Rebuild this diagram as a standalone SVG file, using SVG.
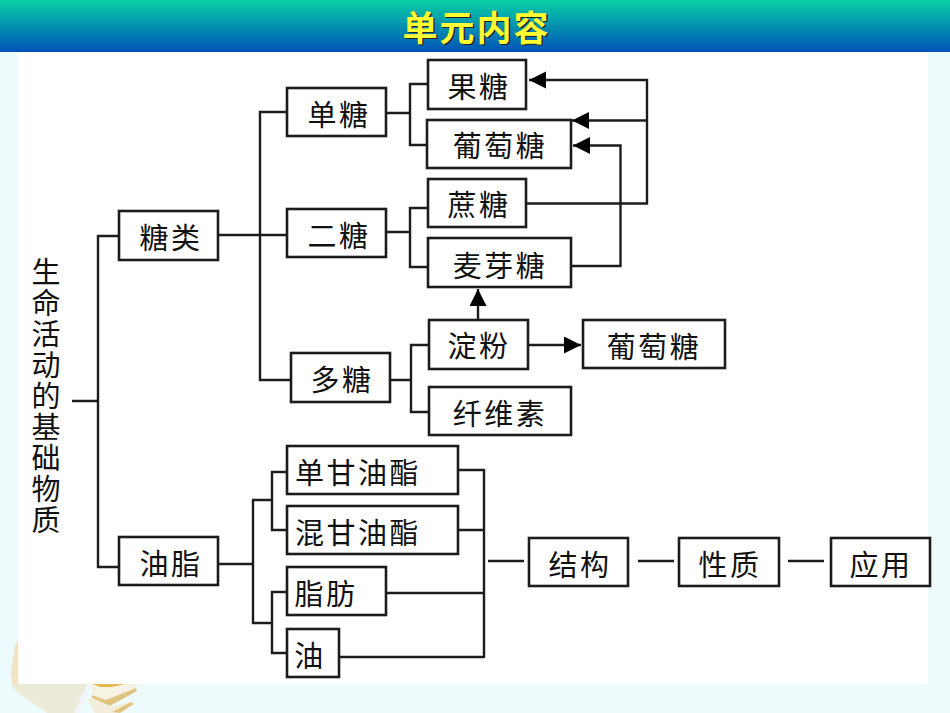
<svg xmlns="http://www.w3.org/2000/svg" width="950" height="713" viewBox="0 0 950 713">
<style>
.b{fill:#fff;stroke:#1c1c1c;stroke-width:2.6}
.t{font-family:"Noto Sans CJK SC","Noto Sans CJK JP",sans-serif;font-size:29px;letter-spacing:2.500px;fill:#111;text-anchor:middle}
.v{font-family:"Noto Sans CJK SC","Noto Sans CJK JP",sans-serif;font-size:29px;letter-spacing:2px;fill:#111;writing-mode:vertical-rl;text-orientation:upright}
.c{fill:none;stroke:#1c1c1c;stroke-width:2.4}
.h{font-family:"Noto Sans CJK SC","Noto Sans CJK JP",sans-serif;font-size:35px;letter-spacing:2px;font-weight:700;text-anchor:middle}
</style>
<defs>
<linearGradient id="g" x1="0" y1="0" x2="0" y2="1"><stop offset="0" stop-color="#0ad0a6"/><stop offset="1" stop-color="#0052b8"/></linearGradient>
<marker id="a" markerUnits="userSpaceOnUse" markerWidth="18" markerHeight="18" refX="17" refY="8.500" orient="auto"><path d="M0 0L17 8.500L0 17Z" fill="#000"/></marker>
<filter id="bl" x="-10%" y="-10%" width="120%" height="120%"><feGaussianBlur stdDeviation="0.7"/></filter>
</defs>
<rect width="950" height="713" fill="#eefbfd"/>
<g id="books" filter="url(#bl)">
<path d="M15 645L18 640V684H12L11 672Z" fill="#efe4c6"/>
<path d="M13 684L12 688L47 713H78L92 684Z" fill="#ecebd8"/>
<path d="M87 684H92L78 713H74Z" fill="#f3f3fb"/>
<path d="M92 684H137L136 689L110 705L92 697Z" fill="#f6f3e4"/>
<path d="M106 700L136 688L137 691L110 706L92 698V695Z" fill="#e2c482"/>
<path d="M93 684H125L112 687H100Z" fill="#e6b84e"/>
<path d="M87 700L92 698L110 707L130 702L132 704L115 713H95Z" fill="#f2eedb"/>
<path d="M112 712L131 702L134 704L120 713Z" fill="#e2c482"/>
</g>
<rect x="18" y="52" width="910" height="632" fill="#fff"/>
<rect id="banner" width="950" height="52" fill="url(#g)"/>
<text class="h" x="478" y="42" fill="#222">单元内容</text>
<text class="h" x="476.500" y="41" fill="#ffff33">单元内容</text>
<g id="connectors">
<path class="c" d="M72 401H98M119 236H98V567H119"/>
<path class="c" d="M218 235H287M287 112H260V380H291"/>
<path class="c" d="M386 113H410M428 84H410V145H427"/>
<path class="c" d="M386 232H410M428 208H410V267H428"/>
<path class="c" d="M390 380H411M429 345H411V412H429"/>
<path class="c" d="M218 564H253M272 500H253V623H272M287 472H272V530H287M287 592H272V653H287"/>
<path class="c" d="M458 470H484M458 530H484M386 593H484M339 657H484M484 469V658"/>
<path class="c" d="M488 561H524M638 561H674M788 561H824"/>
<path class="c" d="M526 203.500H647V80H529" marker-end="url(#a)"/>
<path class="c" d="M647 120.500H572" marker-end="url(#a)"/>
<path class="c" d="M571 266H620.500V145.500H573" marker-end="url(#a)"/>
<path class="c" d="M478 320V289" marker-end="url(#a)"/>
<path class="c" d="M528 345H581" marker-end="url(#a)"/>
</g>
<g id="n-root"><text class="v" x="46" y="257">生命活动的基础物质</text></g>
<g id="n-tanglei"><rect class="b" x="119" y="211" width="99" height="49"/><text class="t" x="171" y="249">糖类</text></g>
<g id="n-youzhi"><rect class="b" x="119" y="537" width="99" height="48"/><text class="t" x="171" y="575">油脂</text></g>
<g id="n-dantang"><rect class="b" x="287" y="88" width="99" height="48"/><text class="t" x="339" y="126">单糖</text></g>
<g id="n-ertang"><rect class="b" x="287" y="209" width="99" height="48"/><text class="t" x="339" y="247">二糖</text></g>
<g id="n-duotang"><rect class="b" x="291" y="353" width="99" height="49"/><text class="t" x="342" y="391">多糖</text></g>
<g id="n-guotang"><rect class="b" x="428" y="60" width="98" height="49"/><text class="t" x="479" y="98">果糖</text></g>
<g id="n-putao1"><rect class="b" x="427" y="120" width="144" height="48"/><text class="t" x="500" y="157">葡萄糖</text></g>
<g id="n-zhetang"><rect class="b" x="428" y="179" width="98" height="48"/><text class="t" x="479" y="216">蔗糖</text></g>
<g id="n-maiya"><rect class="b" x="428" y="238" width="143" height="49"/><text class="t" x="500" y="277">麦芽糖</text></g>
<g id="n-dianfen"><rect class="b" x="429" y="320" width="99" height="49"/><text class="t" x="479" y="357">淀粉</text></g>
<g id="n-putao2"><rect class="b" x="583" y="320" width="142" height="48"/><text class="t" x="654" y="358">葡萄糖</text></g>
<g id="n-xianwei"><rect class="b" x="429" y="387" width="142" height="48"/><text class="t" x="500" y="425">纤维素</text></g>
<g id="n-dangan"><rect class="b" x="287" y="446" width="171" height="48"/><text class="t" x="358" y="484">单甘油酯</text></g>
<g id="n-hungan"><rect class="b" x="287" y="506" width="171" height="48"/><text class="t" x="358" y="544">混甘油酯</text></g>
<g id="n-zhifang"><rect class="b" x="287" y="567" width="99" height="48"/><text class="t" x="326" y="605">脂肪</text></g>
<g id="n-you"><rect class="b" x="287" y="629" width="52" height="48"/><text class="t" x="310" y="667">油</text></g>
<g id="n-jiegou"><rect class="b" x="529" y="538" width="99" height="48"/><text class="t" x="580" y="576">结构</text></g>
<g id="n-xingzhi"><rect class="b" x="679" y="538" width="100" height="48"/><text class="t" x="730" y="576">性质</text></g>
<g id="n-yingyong"><rect class="b" x="831" y="538" width="99" height="48"/><text class="t" x="881" y="576">应用</text></g>
</svg>
